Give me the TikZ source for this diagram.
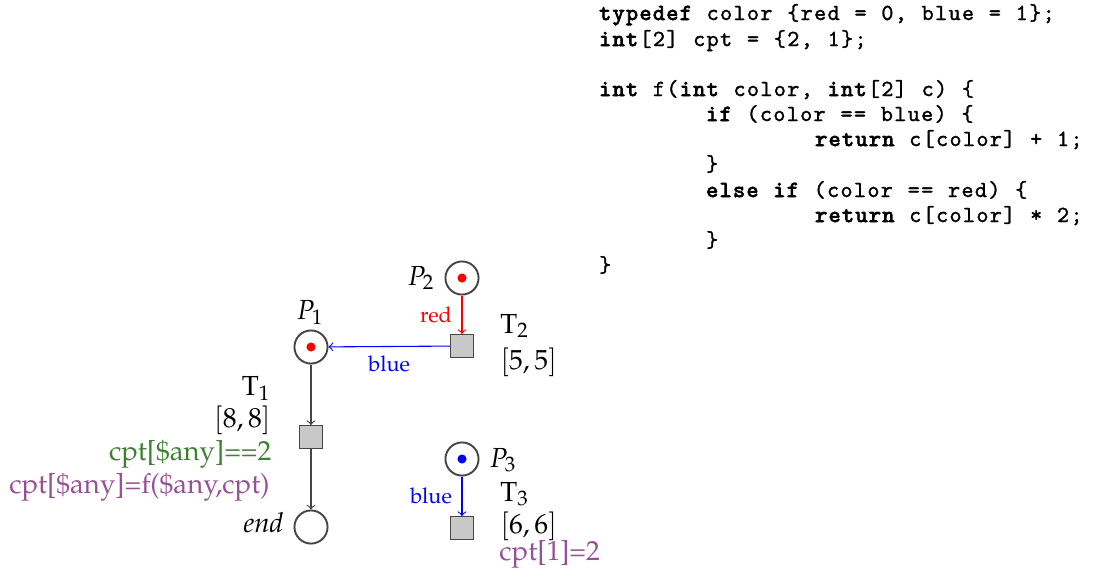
\documentclass[tikz,border=0pt]{standalone}
\usepackage[T1]{fontenc}
\usepackage{mathpazo}
\definecolor{cgreen}{RGB}{62,128,50}
\definecolor{cpurple}{RGB}{150,80,150}
\definecolor{cline}{RGB}{70,70,70}
\definecolor{cfill}{RGB}{200,200,200}
\font\codefont="[lmmono10-regular]:embolden=1.3" at 9.6pt
\font\codebf="[lmmono10-regular]:embolden=3.4" at 9.6pt
\ExplSyntaxOn
\cs_new:Npn \cw_char:n #1
  { \str_case:nnF {#1} { {<}{\char123\relax} {>}{\char125\relax} } {#1} }
\NewDocumentCommand \cw { m }
  {
    \str_map_inline:nn { #1 }
      {
        \makebox [5.6pt] [c] { \cw_char:n{##1} }
      }
  }
\ExplSyntaxOff
\newcommand\kw[1]{{\codebf\cw{#1}}}
\tikzset{
  place/.style={circle, draw=cline, line width=0.8pt, minimum size=13.8pt, inner sep=0pt},
  trans/.style={rectangle, draw=cline, fill=cfill, line width=0.6pt, minimum size=9.4pt, inner sep=0pt},
  tok/.style={circle, fill=#1, minimum size=3.8pt, inner sep=0pt},
  arc/.style={->, line width=0.45pt},
  lbl/.style={inner sep=0pt},
  small/.style={font=\fontsize{9}{11}\selectfont},
  code/.style={anchor=base west, inner sep=0pt, font=\codefont},
}
\begin{document}
\begin{tikzpicture}[x=0.4167pt, y=-0.4167pt, font=\fontsize{11.5}{14}\selectfont]
\useasboundingbox (0,0) rectangle (1115,577);
% places
\node[place] (P1) at (311,347) {};
\node[place] (P2) at (462,278) {};
\node[place] (P3) at (462,459) {};
\node[place] (End) at (311,527) {};
\node[tok=red] (k1) at (P1) {};
\node[tok=red] (k2) at (P2) {};
\node[tok=blue] (k3) at (P3) {};
% transitions
\node[trans] (T1) at (311,437) {};
\node[trans] (T2) at (462,346) {};
\node[trans] (T3) at (462,528) {};
% arcs
\draw[arc, red] (P2) -- node[midway, left, inner sep=4pt, small] (lred) {red} (T2);
\draw[arc, blue] (T2) -- node[midway, below, inner sep=3.5pt, small] (lblue1) {blue} (P1);
\draw[arc, cline] (P1) -- (T1);
\draw[arc, cline] (T1) -- (End);
\draw[arc, blue] (P3) -- node[midway, left, inner sep=4pt, small] (lblue2) {blue} (T3);
% place labels
\node[lbl, anchor=base] (lP1) at (310,319) {$P_1$};
\node[lbl, anchor=base west] (lP2) at (407,285) {$P_2$};
\node[lbl, anchor=base west] (lP3) at (489,467) {$P_3$};
\node[lbl, anchor=base east] (lend) at (284,532) {\textit{end}};
% transition labels
\node[lbl, anchor=base west] (lT2) at (500,333) {$\mathrm{T}_2$};
\node[lbl, anchor=base west] (lT2i) at (500,369) {$[5,5]$};
\node[lbl, anchor=base east] (lT1) at (271,395) {$\mathrm{T}_1$};
\node[lbl, anchor=base east] (lT1i) at (271,427) {$[8,8]$};
\node[lbl, anchor=base east, text=cgreen] (lT1g) at (272,460) {cpt[\$any]==2};
\node[lbl, anchor=base east, text=cpurple] (lT1u) at (270,493) {cpt[\$any]=f(\$any,cpt)};
\node[lbl, anchor=base west] (lT3) at (500,501) {$\mathrm{T}_3$};
\node[lbl, anchor=base west] (lT3i) at (500,533) {$[6,6]$};
\node[lbl, anchor=base west, text=cpurple] (lT3u) at (499,560) {cpt[1]=2};
% code
\node[code] (c1) at (598,20) {\kw{typedef}\cw{ color <red = 0, blue = 1>;}};
\node[code] (c2) at (598,46) {\kw{int}\cw{[2] cpt = <2, 1>;}};
\node[code] (c4) at (598,96) {\kw{int}\cw{ f(}\kw{int}\cw{ color, }\kw{int}\cw{[2] c) <}};
\node[code] (c5) at (705,121) {\kw{if}\cw{ (color == blue) <}};
\node[code] (c6) at (814,146) {\kw{return}\cw{ c[color] + 1;}};
\node[code] (c7) at (705,171) {\cw{>}};
\node[code] (c8) at (705,197) {\kw{else}\cw{ }\kw{if}\cw{ (color == red) <}};
\node[code] (c9) at (814,222) {\kw{return}\cw{ c[color] * 2;}};
\node[code] (c10) at (705,247) {\cw{>}};
\node[code] (c11) at (598,272) {\cw{>}};
\end{tikzpicture}
\end{document}
